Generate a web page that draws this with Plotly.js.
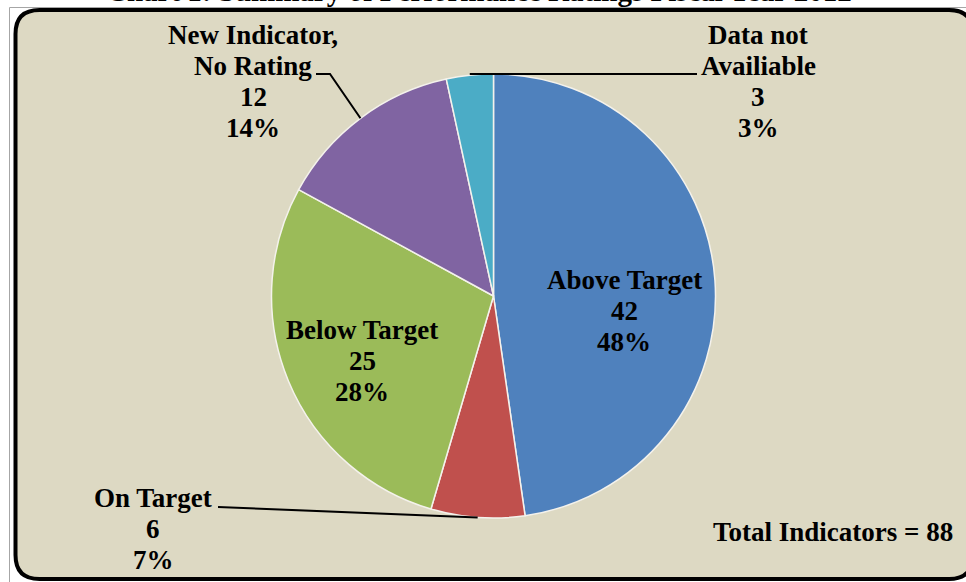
<!DOCTYPE html>
<html>
<head>
<meta charset="utf-8">
<script src="https://cdn.plot.ly/plotly-3.0.1.min.js"></script>
<style>
  html, body { margin: 0; padding: 0; background: #ffffff; }
  #chart { width: 966px; height: 582px; }
</style>
</head>
<body>
<div id="chart"></div>
<script>
// ---- Data ----
const chartTitle = "Chart 1: Summary of Performance Ratings Fiscal Year 2012";
const categories = ["Above Target", "On Target", "Below Target", "New Indicator,\nNo Rating", "Data not\nAvailiable"];
const counts = [42, 6, 25, 12, 3];
const sliceColors = ["#4F81BD", "#C0504D", "#9BBB59", "#8064A2", "#4BACC6"];
const totalLabel = "Total Indicators = ";

// ---- Layout helpers (pixel -> paper) ----
const W = 966, H = 582;
const px = x => x / W;
const py = y => 1 - y / H;
const cx = 493.5, cy = 296, R = 222;

const total = counts.reduce((a, b) => a + b, 0);
const pct = counts.map(v => Math.round(100 * v / total) + "%");

// mid-angle edge point of each slice (clockwise from 12 o'clock)
let cum = 0;
const edge = counts.map(v => {
  const mid = (cum + v / 2) / total * 2 * Math.PI;
  cum += v;
  return [cx + R * Math.sin(mid), cy - R * Math.cos(mid)];
});

// label block centres (pixels)
const labelPos = [
  {x: 624, y: 280},   // Above Target (first line centre)
  {x: 153, y: 498},   // On Target
  {x: 362, y: 330},   // Below Target
  {x: 253, y: 35},    // New Indicator
  {x: 758, y: 35}     // Data not Availiable
];
const lineGap = 31;
const font = {family: "Liberation Serif, Times New Roman, serif", size: 27, color: "#000000"};

const annotations = [];
categories.forEach((c, i) => {
  const lines = c.split("\n").concat([String(counts[i]), pct[i]]);
  lines.forEach((t, k) => {
    annotations.push({
      xref: "paper", yref: "paper",
      x: px(labelPos[i].x), y: py(labelPos[i].y + k * lineGap),
      xanchor: "center", yanchor: "middle",
      text: "<b>" + t + "</b>", showarrow: false, font: font
    });
  });
});
annotations.push({
  xref: "paper", yref: "paper", x: px(833), y: py(532),
  xanchor: "center", yanchor: "middle",
  text: "<b>" + totalLabel + total + "</b>", showarrow: false, font: font
});
annotations.push({
  xref: "paper", yref: "paper", x: px(479), y: py(-9),
  xanchor: "center", yanchor: "middle",
  text: "<b>" + chartTitle + "</b>", showarrow: false,
  font: {family: font.family, size: 29, color: "#000000"}
});

// frame
const L = 15.5, T = 10, Rr = 973, B = 579, rad = 24;
const framePath =
  `M ${px(L)} ${py(T + rad)} Q ${px(L)} ${py(T)} ${px(L + rad)} ${py(T)} ` +
  `L ${px(Rr - rad)} ${py(T)} Q ${px(Rr)} ${py(T)} ${px(Rr)} ${py(T + rad)} ` +
  `L ${px(Rr)} ${py(B - rad)} Q ${px(Rr)} ${py(B)} ${px(Rr - rad)} ${py(B)} ` +
  `L ${px(L + rad)} ${py(B)} Q ${px(L)} ${py(B)} ${px(L)} ${py(B - rad)} Z`;

const shapes = [
  {type: "rect", xref: "paper", yref: "paper", x0: px(9.5), y0: py(7.5), x1: px(1000), y1: py(1000),
   line: {color: "#A6A6A6", width: 1}, fillcolor: "rgba(0,0,0,0)", layer: "below"},
  {type: "path", xref: "paper", yref: "paper", path: framePath,
   line: {color: "#000000", width: 4}, fillcolor: "#DDD9C3", layer: "below"},
  // leader lines
  {type: "path", xref: "paper", yref: "paper",
   path: `M ${px(218)} ${py(507)} L ${px(edge[1][0])} ${py(edge[1][1])}`,
   line: {color: "#000000", width: 2}},
  {type: "path", xref: "paper", yref: "paper",
   path: `M ${px(316)} ${py(74)} L ${px(330)} ${py(74)} L ${px(edge[3][0])} ${py(edge[3][1])}`,
   line: {color: "#000000", width: 2}},
  {type: "path", xref: "paper", yref: "paper",
   path: `M ${px(edge[4][0])} ${py(74)} L ${px(697)} ${py(74)}`,
   line: {color: "#000000", width: 2}}
];

const trace = {
  type: "pie",
  labels: categories,
  values: counts,
  sort: false,
  direction: "clockwise",
  rotation: 0,
  marker: {colors: sliceColors, line: {color: "#F4F2EC", width: 1.5}},
  textinfo: "none",
  hoverinfo: "none",
  showlegend: false,
  domain: {x: [px(cx - R), px(cx + R)], y: [py(cy + R), py(cy - R)]}
};

const layout = {
  width: W, height: H,
  margin: {l: 0, r: 0, t: 0, b: 0},
  paper_bgcolor: "#ffffff",
  plot_bgcolor: "rgba(0,0,0,0)",
  showlegend: false,
  annotations: annotations,
  shapes: shapes
};

Plotly.newPlot("chart", [trace], layout, {displayModeBar: false, staticPlot: true});
</script>
</body>
</html>
